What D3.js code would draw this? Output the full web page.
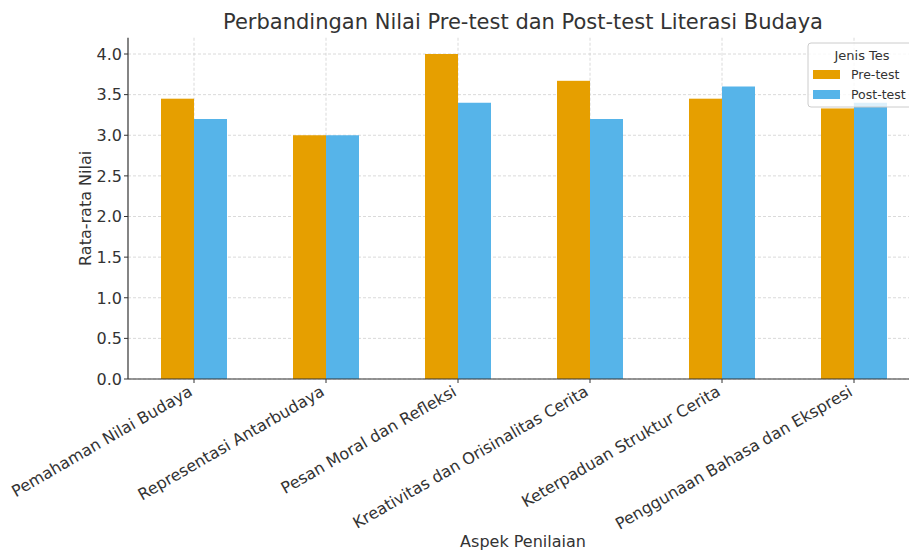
<!DOCTYPE html>
<html><head><meta charset="utf-8">
<script src="https://cdn.jsdelivr.net/npm/d3@7"></script>
<style>body{margin:0;background:#fff}svg{display:block;font-family:"DejaVu Sans",sans-serif}</style>
</head><body><svg id="c" width="909" height="551"></svg>
<script>
const categories = ["Pemahaman Nilai Budaya","Representasi Antarbudaya","Pesan Moral dan Refleksi","Kreativitas dan Orisinalitas Cerita","Keterpaduan Struktur Cerita","Penggunaan Bahasa dan Ekspresi"];
const seriesNames = ["Pre-test","Post-test"];
const preTest = [3.45, 3.0, 4.0, 3.67, 3.45, 3.33];
const postTest = [3.2, 3.0, 3.4, 3.2, 3.6, 3.4];
const yTicks = [0,0.5,1.0,1.5,2.0,2.5,3.0,3.5,4.0];
const colors = ["#E69F00","#56B4E9"];

const svg = d3.select("#c");
const L = 128, R = 920, T = 37.75, B = 379;
const x = d3.scaleLinear().domain([-0.5, 5.5]).range([L, R]);
const y = d3.scaleLinear().domain([0, 4.2]).range([B, T]);
const bw = 0.25;
const g = svg.append("g");

// grid
g.selectAll(".gy").data(yTicks).join("line")
  .attr("x1", L).attr("x2", R).attr("y1", d=>y(d)).attr("y2", d=>y(d))
  .attr("stroke", "#d0d0d0").attr("stroke-width", 0.8).attr("stroke-dasharray", "3,2");
g.selectAll(".gx").data(categories).join("line")
  .attr("x1", (d,i)=>x(i)).attr("x2", (d,i)=>x(i)).attr("y1", T).attr("y2", B)
  .attr("stroke", "#d0d0d0").attr("stroke-width", 0.8).attr("stroke-dasharray", "3,2");

// bars
const series = [preTest, postTest];
series.forEach((vals, s) => {
  g.selectAll(".b"+s).data(vals).join("rect")
    .attr("x", (d,i)=>x(i - bw + s*bw))
    .attr("width", x(bw) - x(0))
    .attr("y", d=>y(d)).attr("height", d=>B - y(d))
    .attr("fill", colors[s]);
});

// axes
g.append("line").attr("x1", L).attr("x2", L).attr("y1", T).attr("y2", B).attr("stroke", "#333").attr("stroke-width", 1.2);
g.append("line").attr("x1", L).attr("x2", R).attr("y1", B).attr("y2", B).attr("stroke", "#333").attr("stroke-width", 1.2);
g.selectAll(".ty").data(yTicks).join("line")
  .attr("x1", L-4).attr("x2", L).attr("y1", d=>y(d)).attr("y2", d=>y(d)).attr("stroke", "#333");
g.selectAll(".tyl").data(yTicks).join("text")
  .attr("x", L-6).attr("y", d=>y(d)).attr("dy", "0.36em").attr("text-anchor", "end")
  .attr("font-size", 16).attr("fill", "#333").text(d=>d.toFixed(1));
g.selectAll(".tx").data(categories).join("line")
  .attr("x1", (d,i)=>x(i)).attr("x2", (d,i)=>x(i)).attr("y1", B).attr("y2", B+4).attr("stroke", "#333");
g.selectAll(".txl").data(categories).join("text")
  .attr("transform", (d,i)=>`translate(${x(i)-6},${B+6}) rotate(-30)`)
  .attr("text-anchor", "end").attr("dy", "0.7em")
  .attr("font-size", 16).attr("fill", "#333").text(d=>d);

// labels
svg.append("text").attr("x", 523).attr("y", 29).attr("text-anchor", "middle")
  .attr("font-size", 21).attr("fill", "#333").text("Perbandingan Nilai Pre-test dan Post-test Literasi Budaya");
svg.append("text").attr("x", 523).attr("y", 547).attr("text-anchor", "middle")
  .attr("font-size", 16).attr("fill", "#333").text("Aspek Penilaian");
svg.append("text").attr("transform", `translate(91,${(T+B)/2}) rotate(-90)`).attr("text-anchor", "middle")
  .attr("font-size", 16).attr("fill", "#333").text("Rata-rata Nilai");

// legend
const lg = svg.append("g");
lg.append("rect").attr("x", 808).attr("y", 43).attr("width", 110).attr("height", 64).attr("rx", 3)
  .attr("fill", "#fff").attr("fill-opacity", 0.8).attr("stroke", "#ccc");
lg.append("text").attr("x", 862).attr("y", 60).attr("text-anchor", "middle").attr("font-size", 13).attr("fill", "#333").text("Jenis Tes");
seriesNames.forEach((n, s) => {
  lg.append("rect").attr("x", 813).attr("y", 70 + s*20).attr("width", 27).attr("height", 9).attr("fill", colors[s]);
  lg.append("text").attr("x", 851).attr("y", 75 + s*20).attr("dy", "0.35em").attr("font-size", 12.5).attr("fill", "#333").text(n);
});
</script></body></html>
